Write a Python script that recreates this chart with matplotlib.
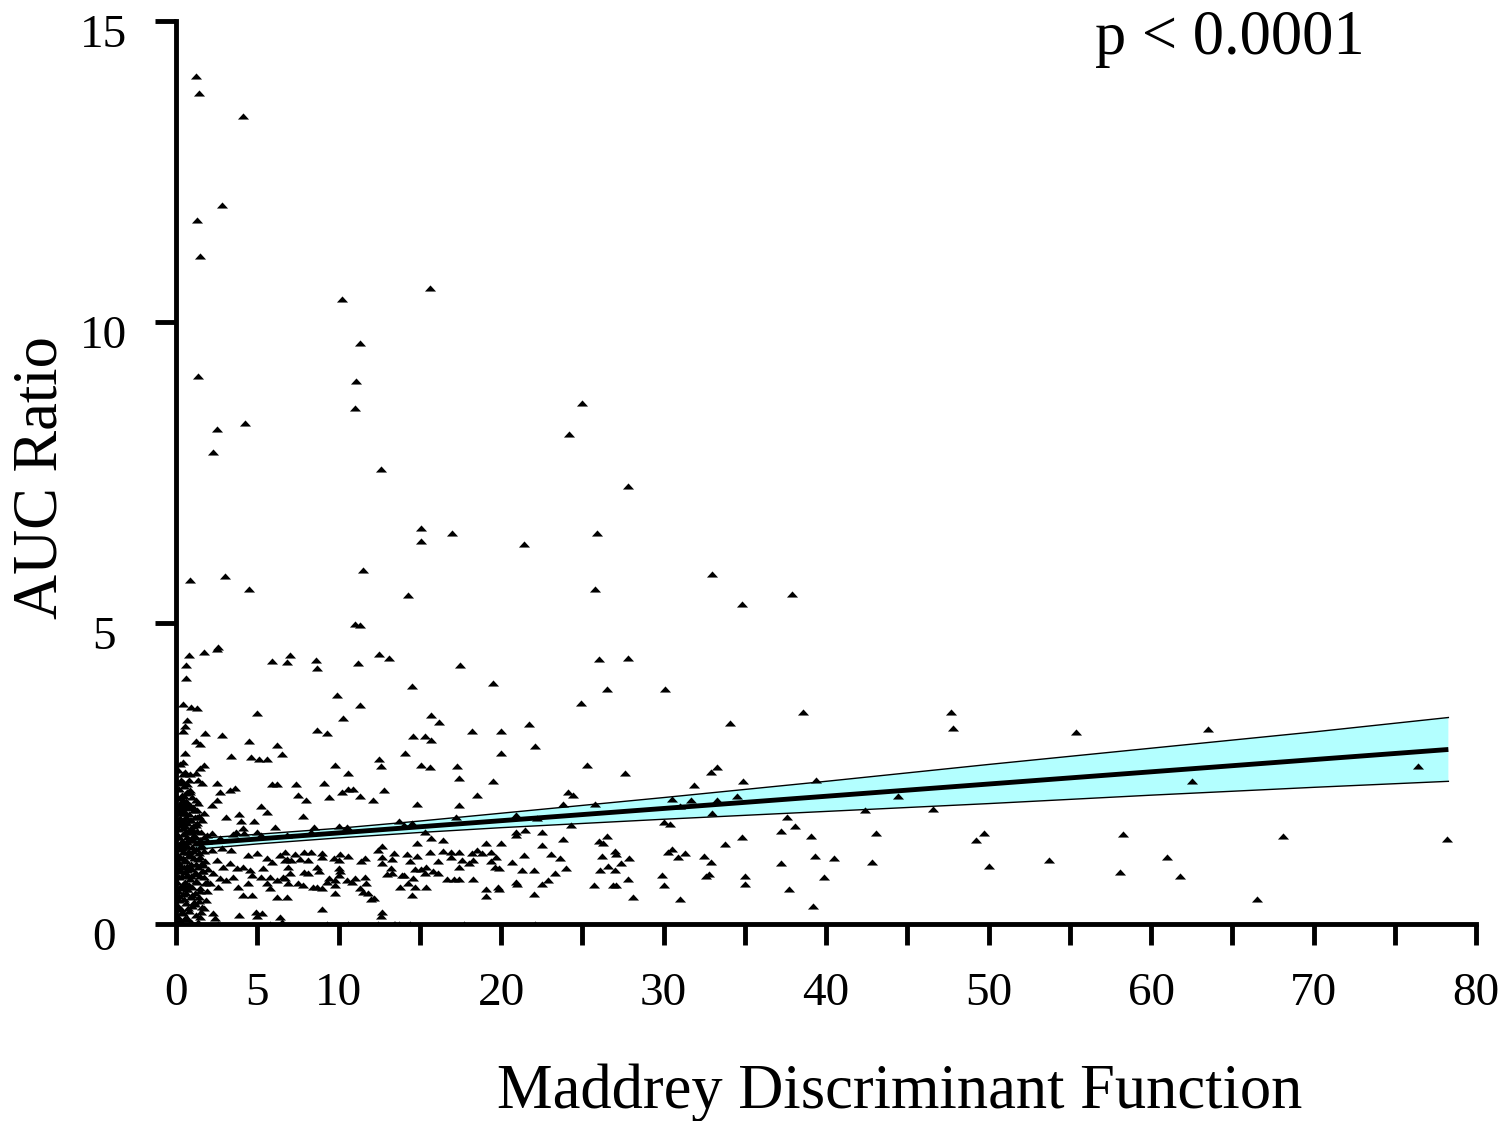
import matplotlib
matplotlib.use("Agg")
import matplotlib.pyplot as plt
import matplotlib.transforms as mtransforms
from matplotlib.markers import MarkerStyle

plt.rcParams['font.family'] = ['Liberation Serif', 'DejaVu Serif']

# outlying / sparse points (Maddrey DF, AUC ratio)
md_high = [1.23, 1.4, 4.1, 2.8, 1.3, 1.5, 15.6, 10.2, 11.3, 1.35, 11.1, 11.0, 25.0, 24.2,
           4.25, 2.5, 2.3, 12.6, 27.8, 15.1, 15.1, 17.0, 21.4, 25.9, 11.5, 0.86, 3.0, 4.5,
           14.3, 25.8, 11.0, 11.3, 2.5, 33.0, 37.9, 34.8]
auc_high = [14.09, 13.8, 13.42, 11.94, 11.7, 11.1, 10.57, 10.38, 9.65, 9.1, 9.02, 8.57, 8.65, 8.14,
            8.32, 8.22, 7.84, 7.56, 7.28, 6.58, 6.36, 6.49, 6.31, 6.49, 5.88, 5.71, 5.78, 5.56,
            5.46, 5.56, 4.98, 4.97, 4.57, 5.81, 5.48, 5.32]

# x between 20 and 80
md_right = [26.0, 27.8, 26.5, 30.1, 24.9, 21.7, 20.0, 22.1, 20.0, 38.6, 47.7, 47.8, 34.1, 25.3,
            27.6, 33.3, 32.9, 34.9, 39.4, 31.9, 24.1, 24.4, 23.8, 25.8, 30.5, 31.7, 31.0, 33.3,
            34.5, 20.9, 22.2, 33.0, 37.6, 42.4, 46.6, 44.4, 30.0, 30.4, 24.3, 21.5, 20.9, 22.5,
            37.2, 38.1, 43.1, 20.0, 22.5, 23.8, 26.0, 26.3, 26.5, 34.8, 33.8, 39.1, 49.2, 49.7,
            21.4, 23.1, 23.6, 20.7, 19.9, 21.3, 22.0, 24.0, 23.3, 26.2, 27.0, 27.1, 27.9, 27.4,
            26.6, 26.1, 27.0, 30.5, 30.3, 31.3, 30.9, 32.5, 32.9, 29.9, 30.0, 31.0, 32.6, 32.8,
            35.0, 35.0, 27.8, 28.1, 25.7, 26.9, 27.1, 21.0, 22.5, 22.9, 22.0, 22.1, 37.2, 37.7,
            39.3, 40.5, 39.9, 39.2, 42.8, 50.0, 19.9,
            55.4, 63.5, 62.5, 76.4, 58.3, 68.1, 78.2, 53.7, 61.0, 58.1, 61.8, 66.5]
auc_right = [4.40, 4.42, 3.90, 3.90, 3.67, 3.32, 3.20, 2.96, 2.84, 3.52, 3.52, 3.26, 3.34, 2.64,
             2.51, 2.61, 2.52, 2.38, 2.39, 2.31, 2.19, 2.14, 1.99, 1.99, 2.08, 2.06, 1.96, 2.06,
             2.13, 1.81, 1.76, 1.84, 1.78, 1.89, 1.91, 2.13, 1.69, 1.66, 1.64, 1.56, 1.53, 1.53,
             1.54, 1.63, 1.51, 1.35, 1.31, 1.41, 1.38, 1.35, 1.46, 1.44, 1.33, 1.46, 1.40, 1.51,
             1.15, 1.16, 1.10, 1.03, 0.93, 0.90, 0.90, 0.93, 0.85, 1.13, 1.21, 1.16, 1.10, 1.01,
             0.96, 0.90, 0.90, 1.25, 1.20, 1.18, 1.11, 1.13, 1.03, 0.81, 0.65, 0.42, 0.80, 0.83,
             0.80, 0.66, 0.75, 0.45, 0.65, 0.65, 0.65, 0.66, 0.66, 0.73, 0.50, 0.0, 1.01, 0.58,
             1.13, 1.10, 0.78, 0.30, 1.03, 0.96, 0.58,
             3.19, 3.24, 2.38, 2.62, 1.50, 1.46, 1.41, 1.06, 1.11, 0.86, 0.80, 0.42]

# x between 14 and 21
md_mid2 = [17.5, 14.5, 19.5, 15.7, 16.2, 18.2, 14.6, 15.3, 15.7, 14.1, 15.1, 15.6, 17.3, 17.4,
           19.5, 18.5, 14.8, 17.4, 17.2, 14.5, 14.0, 15.3, 16.4, 15.7, 14.8, 19.1, 20.9, 14.2,
           14.4, 14.8, 15.6, 16.4, 16.9, 17.4, 18.2, 18.5, 18.8, 19.4, 19.7, 19.4, 16.1, 16.9,
           17.6, 18.3, 18.0, 19.6, 14.7, 15.1, 15.4, 15.8, 16.1, 15.3, 17.4, 14.0, 14.6, 14.3,
           14.7, 16.7, 17.1, 17.4, 18.3, 15.4, 14.5, 19.1, 19.8, 19.1, 20.9, 14.4, 17.7]
auc_mid2 = [4.30, 3.95, 4.0, 3.47, 3.36, 3.20, 3.12, 3.12, 3.06, 2.84, 2.64, 2.61, 2.62, 2.43,
            2.38, 2.14, 1.99, 1.98, 1.78, 1.68, 1.64, 1.53, 1.40, 1.43, 1.35, 1.35, 1.48, 1.16,
            1.05, 1.13, 1.20, 1.21, 1.20, 1.20, 1.18, 1.23, 1.18, 1.20, 1.11, 1.05, 1.05, 1.11,
            1.06, 1.06, 1.01, 0.95, 0.91, 0.91, 0.95, 0.88, 0.85, 0.85, 0.95, 0.81, 0.76, 0.68,
            0.61, 0.75, 0.75, 0.75, 0.75, 0.61, 0.48, 0.58, 0.61, 0.46, 0.70, 0.0, 0.0]

# x between 6.5 and 14
md_mid1 = [7.0, 6.8, 8.6, 8.7, 11.2, 12.5, 13.1, 9.9, 11.3, 10.3, 8.7, 9.3, 12.5, 12.6, 9.8,
           10.6, 7.4, 9.1, 7.5, 8.0, 9.4, 10.2, 10.6, 10.9, 11.3, 12.1, 12.8, 7.8, 13.7, 10.0,
           10.5, 8.5, 8.3, 6.7, 7.3, 7.9, 8.3, 9.0, 9.0, 10.1, 10.6, 9.7, 10.0, 11.6, 11.4, 12.4,
           12.7, 12.7, 13.4, 13.3, 12.7, 13.2, 13.0, 13.3, 6.8, 7.1, 7.6, 8.1, 6.9, 7.0, 6.7, 7.9,
           8.1, 8.7, 8.8, 10.0, 10.1, 10.0, 7.5, 7.8, 8.4, 8.7, 9.0, 9.4, 9.3, 9.8, 9.8, 10.5,
           11.0, 10.8, 11.6, 11.7, 11.3, 11.5, 11.8, 12.0, 12.2, 13.9, 13.8, 9.8, 6.8, 9.0, 12.7,
           9.3, 10.6, 12.4, 13.4, 13.7, 13.5, 12.6]
auc_mid1 = [4.47, 4.35, 4.39, 4.25, 4.34, 4.48, 4.42, 3.80, 3.64, 3.42, 3.22, 3.17, 2.74, 2.62,
            2.64, 2.51, 2.33, 2.34, 2.14, 2.06, 2.11, 2.19, 2.24, 2.24, 2.13, 2.06, 2.23, 1.79,
            1.71, 1.63, 1.61, 1.61, 1.53, 1.20, 1.16, 1.20, 1.20, 1.18, 1.11, 1.16, 1.13, 1.10,
            1.06, 1.10, 1.05, 1.23, 1.30, 1.11, 1.18, 1.08, 1.01, 0.93, 0.83, 0.85, 1.08, 1.06,
            1.08, 1.06, 0.95, 0.85, 0.76, 0.86, 0.85, 0.95, 0.88, 0.93, 0.88, 0.81, 0.68, 0.65,
            0.61, 0.61, 0.60, 0.76, 0.70, 0.73, 0.65, 0.73, 0.76, 0.70, 0.78, 0.68, 0.60, 0.53,
            0.51, 0.42, 0.43, 0.81, 0.61, 0.51, 0.45, 0.25, 0.20, 0.0, 0.0, 0.0, 0.0, 0.0, 0.0,
            0.13]

# x between 0 and 7
md_low = [2.6, 1.7, 0.8, 0.6, 0.6, 5.9, 0.4, 0.9, 1.3, 5.0, 0.7, 0.55, 0.45, 1.8, 2.8, 1.2, 1.5,
          4.5, 6.2, 6.5, 0.55, 0.4, 3.4, 4.6, 5.1, 5.6, 1.7, 1.5, 1.2, 0.55, 0.86, 0.4, 0.7, 1.35,
          1.6, 2.5, 5.9, 6.2, 2.7, 3.3, 3.6, 0.86, 0.6, 1.0, 0.43, 1.2, 0.7, 1.35, 0.37, 1.05,
          2.2, 2.5, 5.2, 5.6, 1.7, 1.6, 1.3, 0.86, 0.55, 0.25, 3.1, 3.9, 4.0, 4.8, 6.1, 4.1, 3.7,
          4.2, 3.5, 5.0, 5.2, 2.2, 1.9, 2.7, 6.8,
          2.2, 2.8, 3.4, 4.4, 5.0, 5.6, 5.9, 6.4, 6.7,
          2.5, 2.9, 3.3, 3.75, 4.1, 4.55, 4.7, 5.2, 5.35, 5.8, 6.2, 6.6, 6.9,
          2.3, 2.7, 2.1, 2.6, 3.1, 3.5, 3.8, 4.4, 4.1, 4.7, 5.6, 5.8, 6.2,
          1.7, 2.3, 3.9, 4.9, 5.3, 6.4, 0.55, 1.5, 2.6, 5.8, 5.0, 6.5, 2.4, 1.35]
auc_low = [4.6, 4.52, 4.47, 4.30, 4.08, 4.37, 3.65, 3.60, 3.59, 3.50, 3.39, 3.29, 3.20, 3.17,
           3.14, 3.04, 2.99, 3.04, 2.97, 2.82, 2.84, 2.69, 2.79, 2.77, 2.74, 2.74, 2.64, 2.59,
           2.51, 2.52, 2.49, 2.36, 2.33, 2.39, 2.34, 2.34, 2.33, 2.33, 2.19, 2.23, 2.26, 2.23,
           2.18, 2.11, 2.06, 2.06, 2.01, 2.01, 1.94, 1.94, 1.98, 2.06, 1.96, 1.86, 1.84, 1.73,
           1.78, 1.73, 1.84, 1.76, 1.78, 1.83, 1.71, 1.71, 1.61, 1.59, 1.53, 1.51, 1.50, 1.53,
           1.48, 1.51, 1.48, 1.43, 1.48,
           1.23, 1.26, 1.23, 1.15, 1.18, 1.10, 1.03, 1.15, 1.06,
           1.06, 0.95, 1.01, 0.93, 0.95, 0.90, 0.81, 0.78, 0.93, 0.78, 0.73, 0.78, 0.68,
           0.85, 0.76, 0.68, 0.61, 0.73, 0.78, 0.61, 0.68, 0.48, 0.48, 0.68, 0.60, 0.45,
           0.27, 0.18, 0.15, 0.20, 0.18, 0.12, 0.10, 0.12, 0.0, 0.0, 0.13, 0.03, 0.10, 0.03]

# dense cluster next to x = 0
md_cluster = [0.15, 0.3, 0.45, 0.6, 0.8, 1.0, 1.2, 0.2, 0.5, 0.9, 1.4, 0.1, 0.7, 1.6,
              0.1, 0.25, 0.4, 0.55, 0.7, 0.85, 1.0, 1.15, 1.3, 1.5, 1.7, 1.9, 0.2, 0.35, 0.65,
              0.95, 1.25, 0.5,
              0.1, 0.2, 0.3, 0.4, 0.5, 0.6, 0.7, 0.8, 0.9, 1.0, 1.1, 1.2, 1.35, 1.5, 1.65, 1.8,
              0.15, 0.45, 0.75, 1.05, 1.4, 0.25, 0.55, 0.85, 1.6, 1.95,
              0.1, 0.2, 0.3, 0.4, 0.5, 0.6, 0.7, 0.8, 0.9, 1.0, 1.1, 1.2, 1.3, 1.45, 1.6, 1.75,
              1.9, 0.15, 0.35, 0.65, 0.95, 1.25, 0.45, 0.85, 1.55,
              0.1, 0.2, 0.3, 0.4, 0.5, 0.6, 0.7, 0.8, 0.95, 1.1, 1.25, 1.4, 0.25, 0.55, 0.85,
              1.05, 0.15, 0.45,
              0.1, 0.2, 0.3, 0.15, 0.35, 0.5, 0.65, 0.8, 0.25, 0.45, 0.1, 0.6,
              0.05, 0.05, 0.05, 0.05, 0.05, 0.3, 0.9,
              0.35, 0.75, 1.15, 1.55, 1.85, 0.2, 0.6, 1.0, 1.4, 1.8, 0.4, 0.8, 1.2, 1.65,
              0.3, 0.7, 1.1, 1.5, 0.12, 0.55, 0.95, 1.35, 1.75, 0.25, 0.65, 1.05, 1.45,
              0.4, 0.9, 1.3, 0.18, 0.6, 1.0, 0.35, 0.75, 1.15, 0.5, 0.08, 0.28, 0.68,
              1.08, 1.48, 1.88, 0.38, 0.78, 1.18, 1.58, 0.48, 0.88, 1.28, 0.22, 0.62]
auc_cluster = [0.12, 0.25, 0.18, 0.35, 0.22, 0.30, 0.15, 0.40, 0.42, 0.45, 0.38, 0.30, 0.10, 0.28,
               0.55, 0.62, 0.50, 0.70, 0.58, 0.75, 0.62, 0.52, 0.70, 0.60, 0.78, 0.55, 0.78, 0.80,
               0.82, 0.80, 0.85, 0.60,
               0.90, 1.00, 0.88, 1.10, 0.95, 1.05, 0.90, 1.15, 1.00, 0.92, 1.10, 1.00, 0.95, 1.12,
               0.98, 1.05, 1.15, 1.20, 1.20, 1.22, 1.18, 1.12, 0.87, 0.95, 0.88, 0.92,
               1.30, 1.45, 1.25, 1.50, 1.35, 1.55, 1.30, 1.42, 1.60, 1.28, 1.48, 1.35, 1.55, 1.40,
               1.30, 1.45, 1.38, 1.58, 1.38, 1.45, 1.40, 1.25, 1.28, 1.52, 1.52,
               1.70, 1.85, 1.65, 1.90, 1.75, 1.95, 1.68, 1.82, 1.72, 1.90, 1.65, 1.80, 2.00, 1.62,
               1.98, 1.62, 1.92, 1.70,
               2.10, 2.25, 2.40, 2.55, 2.15, 2.30, 2.20, 2.40, 2.65, 2.50, 2.35, 2.05,
               0.70, 1.10, 1.50, 1.90, 0.30, 0.02, 0.03,
               0.20, 0.27, 0.33, 0.20, 0.40, 0.47, 0.52, 0.48, 0.45, 0.68, 0.67, 0.65, 0.72, 0.88,
               0.95, 0.97, 0.83, 0.80, 1.03, 1.07, 1.13, 1.08, 1.22, 1.33, 1.37, 1.40, 1.28,
               1.60, 1.52, 1.68, 1.73, 1.78, 1.55, 1.85, 1.93, 1.78, 2.00, 1.45, 0.62, 0.58,
               0.36, 0.55, 0.70, 1.27, 1.20, 1.45, 1.02, 2.12, 2.20, 1.90, 0.05, 0.08]

# regression line with its confidence band
fit_x = [1.2, 5, 10, 15, 20, 30, 40, 50, 60, 70, 78.3]
fit_y = [1.334, 1.412, 1.513, 1.615, 1.716, 1.919, 2.122, 2.325, 2.528, 2.731, 2.899]
band_lo = [1.24, 1.33, 1.43, 1.52, 1.60, 1.74, 1.87, 2.00, 2.14, 2.27, 2.37]
band_hi = [1.42, 1.49, 1.59, 1.71, 1.84, 2.10, 2.37, 2.65, 2.92, 3.19, 3.43]

x_ticks = list(range(0, 81, 5))
x_tick_labels = ['0', '5', '10', '', '20', '', '30', '', '40', '', '50', '', '60', '', '70', '', '80']
y_ticks = [0, 5, 10, 15]

md = md_high + md_right + md_mid2 + md_mid1 + md_low + md_cluster
auc = auc_high + auc_right + auc_mid2 + auc_mid1 + auc_low + auc_cluster

fig = plt.figure(figsize=(15.09, 11.21), dpi=100)
ax = fig.add_axes([176 / 1509, 197 / 1121, 1300 / 1509, 903 / 1121])

ax.fill_between(fit_x, band_lo, band_hi, facecolor='#b3ffff', edgecolor='none', zorder=1)
ax.plot(fit_x, band_lo, color='black', lw=1.0, zorder=1.2)
ax.plot(fit_x, band_hi, color='black', lw=1.0, zorder=1.2)
ax.plot(fit_x, fit_y, color='black', lw=3.5, zorder=1.5, solid_capstyle='butt')

tri = MarkerStyle([(-1, -0.55), (1, -0.55), (0, 0.55)])
ax.plot(md, auc, linestyle='none', marker=tri, ms=8, color='black', mew=0, zorder=2)

ax.set_xlim(0, 80)
ax.set_ylim(0, 15)
for side in ['top', 'right']:
    ax.spines[side].set_visible(False)
for side in ['left', 'bottom']:
    ax.spines[side].set_linewidth(3.5)

ax.set_xticks(x_ticks)
ax.set_xticklabels(x_tick_labels)
ax.set_yticks(y_ticks)
ax.set_yticklabels([str(v) for v in y_ticks])
ax.tick_params(axis='x', direction='out', length=15, width=3.5, pad=20, labelsize=34)
ax.tick_params(axis='y', direction='out', length=15, width=3.5, pad=37, labelsize=34)
offset = mtransforms.ScaledTranslation(0, -0.1, fig.dpi_scale_trans)
for lbl in ax.get_yticklabels():
    lbl.set_horizontalalignment('center')
    lbl.set_transform(lbl.get_transform() + offset)

fig.text(900 / 1509, 1 - 1108 / 1121, 'Maddrey Discriminant Function', fontsize=45,
         ha='center', va='baseline')
fig.text(42 / 1509, 1 - 478 / 1121, 'AUC Ratio', fontsize=45, rotation=90,
         ha='center', va='center')
fig.text(1230 / 1509, 1 - 54 / 1121, 'p < 0.0001', fontsize=45, ha='center', va='baseline')

fig.savefig('out.png', dpi=100)
